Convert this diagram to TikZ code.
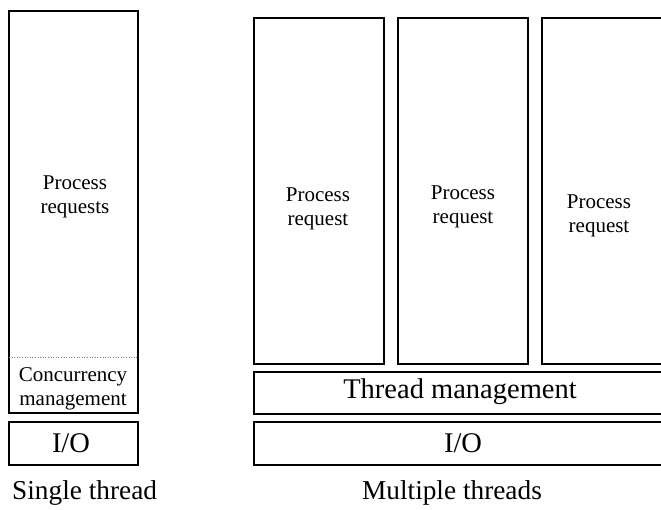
\documentclass[tikz,border=0pt]{standalone}
\usepackage{fontspec}
\setmainfont{Liberation Serif}
\begin{document}
\begin{tikzpicture}[x=1pt,y=-1pt,
  box/.style={draw, line width=1.1pt, inner sep=0pt, outer sep=0pt, anchor=north west},
  small/.style={font=\fontsize{21}{24}\selectfont, align=center, inner sep=0pt},
  large/.style={font=\fontsize{28.5}{32}\selectfont, inner sep=0pt},
  caption/.style={font=\fontsize{27.3}{32}\selectfont, inner sep=0pt},
  divider/.style={draw=gray, line width=0.6pt, dotted}]
\useasboundingbox (0,0) rectangle (661,510);
\clip (0,0) rectangle (661,510);

% single-threaded stack
\node[box, minimum width=129pt, minimum height=402pt] (single) at (9,11) {};
\node[box, minimum width=129pt, minimum height=43pt] (sio) at (9,422) {};
\draw[divider] (single.west |- 0,357) coordinate (dl) -- (single.east |- 0,357) coordinate (dr);
\node[small] (sreq) at (75,197) {Process\\requests};
\node[small] (conc) at (73,389) {Concurrency\\management};
\node[large] (siotext) at (71,443) {I/O};
\node[caption, anchor=west] (stitle) at (12,493) {Single thread};

% multi-threaded stack
\node[box, minimum width=130pt, minimum height=346pt] (p1) at (254,18) {};
\node[box, minimum width=130pt, minimum height=346pt] (p2) at (398,18) {};
\node[box, minimum width=130pt, minimum height=346pt] (p3) at (542,18) {};
\node[box, minimum width=446pt, minimum height=42pt] (tm) at (254,372) {};
\node[box, minimum width=446pt, minimum height=43pt] (mio) at (254,422) {};
\node[small] (r1) at (318,209) {Process\\request};
\node[small] (r2) at (463,207) {Process\\request};
\node[small] (r3) at (599,216) {Process\\request};
\node[large] (tmtext) at (460,392) {Thread management};
\node[large] (miotext) at (463,443) {I/O};
\node[caption] (mtitle) at (452,493) {Multiple threads};
\end{tikzpicture}
\end{document}
